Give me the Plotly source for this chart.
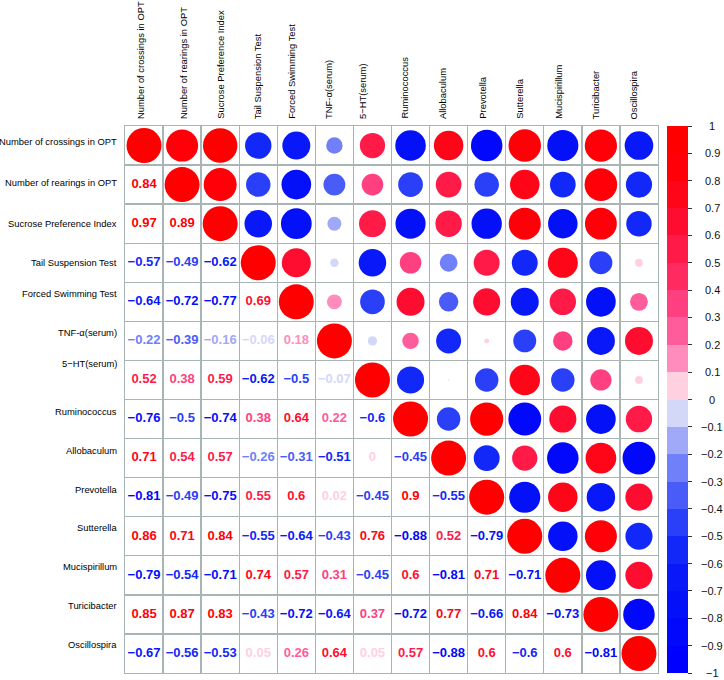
import numpy as np
import plotly.graph_objects as go

variables = [
    "Number of crossings in OPT", "Number of rearings in OPT", "Sucrose Preference Index",
    "Tail Suspension Test", "Forced Swimming Test", "TNF-α(serum)", "5−HT(serum)",
    "Ruminococcus", "Allobaculum", "Prevotella", "Sutterella", "Mucispirillum",
    "Turicibacter", "Oscillospira",
]

# lower-triangle correlation values, row by row (row k has k entries)
lower_rows = [
    [0.84],
    [0.97, 0.89],
    [-0.57, -0.49, -0.62],
    [-0.64, -0.72, -0.77, 0.69],
    [-0.22, -0.39, -0.16, -0.06, 0.18],
    [0.52, 0.38, 0.59, -0.62, -0.5, -0.07],
    [-0.76, -0.5, -0.74, 0.38, 0.64, 0.22, -0.6],
    [0.71, 0.54, 0.57, -0.26, -0.31, -0.51, 0.0, -0.45],
    [-0.81, -0.49, -0.75, 0.55, 0.6, 0.02, -0.45, 0.9, -0.55],
    [0.86, 0.71, 0.84, -0.55, -0.64, -0.43, 0.76, -0.88, 0.52, -0.79],
    [-0.79, -0.54, -0.71, 0.74, 0.57, 0.31, -0.45, 0.6, -0.81, 0.71, -0.71],
    [0.85, 0.87, 0.83, -0.43, -0.72, -0.64, 0.37, -0.72, 0.77, -0.66, 0.84, -0.73],
    [-0.67, -0.56, -0.53, 0.05, 0.26, 0.64, 0.05, 0.57, -0.88, 0.6, -0.6, 0.6, -0.81],
]

colorbar_ticks = [round(-1 + 0.1 * k, 1) for k in range(21)]

# 20 colour bins from -1 to 1
bin_colors = [
    "#0000FF", "#0208FC", "#0410F8", "#0818F8", "#1228F8",
    "#2A40F8", "#4A5CF8", "#7080F8", "#A0A8F8", "#D4D8F8",
    "#FFD0E0", "#FF8CBC", "#FF5C9C", "#FF4080", "#FF2A60",
    "#FF1A48", "#FF0D30", "#FF0518", "#FF0008", "#FF0000",
]

n = len(variables)
corr = np.eye(n)
for i, row in enumerate(lower_rows, start=1):
    for j, v in enumerate(row):
        corr[i, j] = v
        corr[j, i] = v


def color_of(v):
    k = int(np.floor(round((v + 1) / 0.1, 6)))
    return bin_colors[min(max(k, 0), 19)]


def fmt(v):
    s = ("%.2f" % abs(v)).rstrip("0").rstrip(".")
    return ("−" + s) if v < 0 else s


FONT = "Liberation Sans, Arial, sans-serif"
GRID = "#A9B5B5"
MAXD = 35.0

fig = go.Figure()

# upper triangle (incl. diagonal): circles
cx, cy, cs, cc = [], [], [], []
for i in range(n):
    for j in range(i, n):
        v = corr[i, j]
        cx.append(j + 1)
        cy.append(i + 1)
        cs.append(max(MAXD * np.sqrt(abs(v)), 1.5))
        cc.append(color_of(v))
fig.add_trace(go.Scatter(
    x=cx, y=cy, mode="markers",
    marker=dict(size=cs, color=cc, opacity=1, line=dict(width=0), sizemode="diameter"),
    hoverinfo="skip", showlegend=False,
))

# lower triangle: numbers
tx, ty, tt, tc = [], [], [], []
for i in range(n):
    for j in range(i):
        v = corr[i, j]
        tx.append(j + 1)
        ty.append(i + 1)
        tt.append(fmt(v))
        tc.append(color_of(v))
fig.add_trace(go.Scatter(
    x=tx, y=ty, mode="text", text=tt,
    textfont=dict(family=FONT, size=13, color=tc, weight="bold"),
    textposition="middle center",
    hoverinfo="skip", showlegend=False,
))

# colour bar (dummy trace)
cscale = []
for k, c in enumerate(bin_colors):
    cscale.append([k / 20, c])
    cscale.append([(k + 1) / 20, c])
fig.add_trace(go.Scatter(
    x=[None], y=[None], mode="markers",
    marker=dict(
        color=[0], colorscale=cscale, cmin=-1, cmax=1, showscale=True,
        colorbar=dict(
            x=(667 - 125) / 533, xanchor="left", y=1, yanchor="top",
            len=1, lenmode="fraction", thickness=21, thicknessmode="pixels",
            xpad=0, ypad=0, outlinewidth=0,
            ticks="outside", ticklen=4, tickwidth=1, tickcolor="#333333",
            tickvals=colorbar_ticks, showticklabels=False,
        ),
    ),
    hoverinfo="skip", showlegend=False,
))

annotations = []
# colour bar labels (centred)
for v in colorbar_ticks:
    annotations.append(dict(
        xref="paper", yref="paper", x=(712 - 125) / 533, y=(v + 1) / 2,
        xanchor="center", yanchor="middle", showarrow=False,
        text=fmt(v) if v != 0 else "0",
        font=dict(family=FONT, size=11, color="#111111"),
    ))

row_nudge = [4.5, 2, 0, 0, 8, 8.5, 16, 8, 7.5, 8, 9, 8.7, 8.5, 8.5]
col_nudge = [-4, 1, 0, -1, -5, -6, -10, -7, -6, -5, -6, -5, -5, -5]
for k, name in enumerate(variables):
    annotations.append(dict(
        xref="paper", yref="y", x=0, y=k + 1, xanchor="right", yanchor="middle",
        xshift=-6, yshift=row_nudge[k], showarrow=False, text=name,
        font=dict(family=FONT, size=9.4, color="#000000"),
    ))
    annotations.append(dict(
        xref="x", yref="paper", x=k + 1, y=1, xanchor="center", yanchor="bottom",
        xshift=col_nudge[k], yshift=5, showarrow=False, text=name, textangle=-90,
        font=dict(family=FONT, size=9.4, color="#000000"),
    ))

grid_vals = [k + 0.5 for k in range(1, n)]
fig.update_layout(
    width=724, height=680, autosize=False,
    margin=dict(l=125, r=66, t=126, b=7, pad=0),
    paper_bgcolor="white", plot_bgcolor="white",
    annotations=annotations,
    xaxis=dict(range=[0.5, n + 0.5], tickvals=grid_vals, showticklabels=False, ticks="",
               showgrid=True, gridcolor=GRID, gridwidth=1.4, zeroline=False,
               showline=True, mirror=True, linecolor=GRID, linewidth=1.4, fixedrange=True),
    yaxis=dict(range=[n + 0.5, 0.5], tickvals=grid_vals, showticklabels=False, ticks="",
               showgrid=True, gridcolor=GRID, gridwidth=1.4, zeroline=False,
               showline=True, mirror=True, linecolor=GRID, linewidth=1.4, fixedrange=True),
)

fig.write_html(
    "out.html",
    config={"displayModeBar": False, "staticPlot": True},
    post_script="document.body.style.margin='0';document.body.style.overflow='hidden';",
)
